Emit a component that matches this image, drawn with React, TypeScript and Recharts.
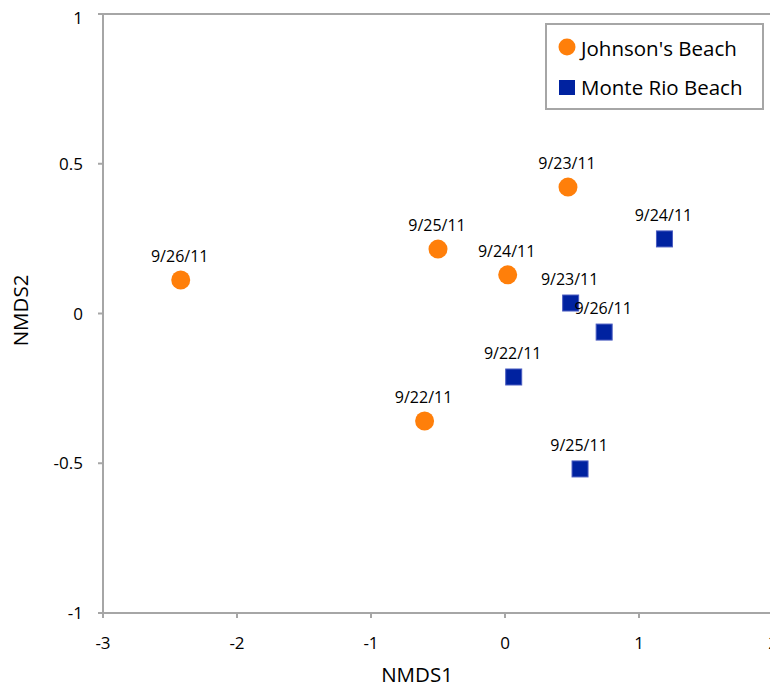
import { ScatterChart, Scatter, XAxis, YAxis, ReferenceLine } from 'recharts'

const johnsonDates = ['9/26/11', '9/25/11', '9/24/11', '9/23/11', '9/22/11']
const johnsonX = [-2.42, -0.5, 0.02, 0.47, -0.6]
const johnsonY = [0.112, 0.215, 0.129, 0.422, -0.359]

const monteDates = ['9/24/11', '9/23/11', '9/26/11', '9/22/11', '9/25/11']
const monteX = [1.19, 0.49, 0.74, 0.065, 0.56]
const monteY = [0.249, 0.035, -0.062, -0.212, -0.519]

const xTicks = [-3, -2, -1, 0, 1, 2]
const yTicks = [-1, -0.5, 0, 0.5, 1]

const seriesNames = ["Johnson's Beach", 'Monte Rio Beach']

const ORANGE = '#ff7f0a'
const BLUE = '#0022a0'
const AXIS = '#a6a6a6'
const FONT = "'Open Sans', sans-serif"

const toRows = (xs: number[], ys: number[], dates: string[]) =>
  xs.map((x, i) => ({ x, y: ys[i], date: dates[i] }))

const johnson = toRows(johnsonX, johnsonY, johnsonDates)
const monte = toRows(monteX, monteY, monteDates)

function DateText({ cx, cy, date }: { cx: number; cy: number; date: string }) {
  return (
    <text x={cx - 1} y={cy - 18} textAnchor="middle" fontSize={16} fontFamily={FONT} fill="#000">
      {date}
    </text>
  )
}

function CircleDot(props: any) {
  const { cx, cy, payload } = props
  return (
    <g>
      <circle cx={cx} cy={cy} r={9.5} fill={ORANGE} />
      <DateText cx={cx} cy={cy} date={payload.date} />
    </g>
  )
}

function SquareDot(props: any) {
  const { cx, cy, payload } = props
  return (
    <g>
      <rect x={cx - 8} y={cy - 8} width={16} height={16} fill={BLUE} stroke="#4a5cc0" strokeWidth={1} />
      <DateText cx={cx} cy={cy} date={payload.date} />
    </g>
  )
}

// legend box drawn over the chart, top right
function LegendBox() {
  return (
    <svg width={219} height={87} style={{ position: 'absolute', left: 537, top: 15 }}>
      <rect x={1} y={1} width={217} height={85} fill="#fff" stroke={AXIS} strokeWidth={2} />
      <circle cx={22} cy={24} r={8.5} fill={ORANGE} />
      <text x={36} y={33} fontSize={20.5} fontFamily={FONT} fill="#000">{seriesNames[0]}</text>
      <rect x={14} y={57} width={16} height={15} fill={BLUE} />
      <text x={36} y={72} fontSize={20.5} fontFamily={FONT} fill="#000">{seriesNames[1]}</text>
    </svg>
  )
}

export default function App() {
  return (
    <div style={{ position: 'relative', width: 770, height: 684, marginBottom: -8 }}>
      <ScatterChart width={770} height={684} margin={{ top: 6, right: 5, bottom: 0, left: 0 }}>
        <XAxis
          type="number"
          dataKey="x"
          domain={[-3, 2]}
          ticks={xTicks}
          height={79}
          axisLine={{ stroke: AXIS, strokeWidth: 2 }}
          tickLine={{ stroke: AXIS, strokeWidth: 2 }}
          tickSize={5}
          tickMargin={19}
          tick={{ fill: '#000', fontSize: 17, fontFamily: FONT }}
          label={{
            content: ({ viewBox }: any) => (
              <text x={viewBox.x + viewBox.width / 2 - 21} y={viewBox.y + 69} textAnchor="middle" fontSize={20.5} fontFamily={FONT} fill="#000">
                NMDS1
              </text>
            ),
          }}
        />
        <YAxis
          type="number"
          dataKey="y"
          domain={[-1, 1]}
          ticks={yTicks}
          width={95}
          axisLine={{ stroke: AXIS, strokeWidth: 2 }}
          tickLine={{ stroke: AXIS, strokeWidth: 2 }}
          tickSize={5}
          tickMargin={15}
          tick={{ fill: '#000', fontSize: 17, fontFamily: FONT }}
          label={{
            content: ({ viewBox }: any) => {
              const cx = viewBox.x + 12
              const cy = viewBox.y + viewBox.height / 2 - 3
              return (
                <text x={cx} y={cy} transform={`rotate(-90 ${cx} ${cy})`} textAnchor="middle" dominantBaseline="central" fontSize={20.5} fontFamily={FONT} fill="#000">
                  NMDS2
                </text>
              )
            },
          }}
        />
        <ReferenceLine y={1} stroke={AXIS} strokeWidth={2} />
        <ReferenceLine x={2} stroke={AXIS} strokeWidth={2} />
        <Scatter name={seriesNames[0]} data={johnson} shape={CircleDot} isAnimationActive={false} />
        <Scatter name={seriesNames[1]} data={monte} shape={SquareDot} isAnimationActive={false} />
      </ScatterChart>
      <LegendBox />
    </div>
  )
}
